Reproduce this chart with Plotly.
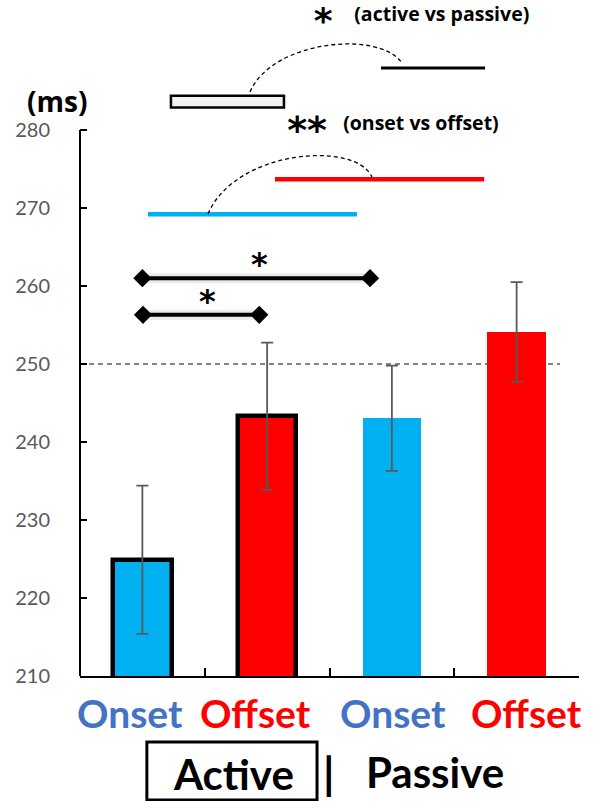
import plotly.graph_objects as go

# ---- data -------------------------------------------------------------
conditions = ["Active Onset", "Active Offset", "Passive Onset", "Passive Offset"]
labels = ["Onset", "Offset", "Onset", "Offset"]
latency_ms = [224.9, 243.3, 243.05, 254.1]
sem_ms = [9.5, 9.45, 6.75, 6.4]
y_ticks = [210, 220, 230, 240, 250, 260, 270, 280]
reference_ms = 250

# pairwise comparison brackets: (x start, x end, level, star x)
pair_brackets = [(0.0, 1.825, 261.0, 0.935), (0.005, 0.937, 256.3, 0.526)]

# main-effect markers: onset (blue) and offset (red) levels
onset_bar = (0.045, 1.72, 269.2)
offset_bar = (1.063, 2.74, 273.7)
# active (open box) vs passive (black line) key
active_box = (0.229, 1.135, 282.9, 284.4)
passive_line = (1.913, 2.747, 287.95)

BLUE = "#00B0F0"
RED = "#FF0000"
LBL_BLUE = "#4472C4"
GREY = "#595959"
FONT = "Lato"
BOLD_SMALL = "Open Sans"
STAR_FONT = "DejaVu Sans"

x_pos = list(range(len(conditions)))
bar_colors = [BLUE if l == "Onset" else RED for l in labels]
outline = [4.5 if c.startswith("Active") else 0 for c in conditions]

fig = go.Figure()
annotations = []

fig.add_trace(go.Bar(
    x=x_pos, y=latency_ms, width=0.47,
    marker=dict(color=bar_colors, line=dict(color="black", width=outline)),
    error_y=dict(type="data", array=sem_ms, color=GREY, thickness=1.8, width=6),
    hoverinfo="skip",
))

# comparison brackets with diamond ends
for x0, x1, lvl, sx in pair_brackets:
    fig.add_trace(go.Scatter(
        x=[x0, x1], y=[lvl, lvl], mode="lines",
        line=dict(color="rgba(0,0,0,0.08)", width=10), hoverinfo="skip",
    ))
    fig.add_trace(go.Scatter(
        x=[x0, x1], y=[lvl, lvl], mode="lines+markers",
        line=dict(color="black", width=4),
        marker=dict(symbol="diamond", size=14, color="black"),
        hoverinfo="skip",
    ))
    annotations.append(dict(x=sx, y=lvl, xref="x", yref="y", text="<b>*</b>", showarrow=False,
                            yanchor="middle", yshift=14,
                            font=dict(family=STAR_FONT, size=32, color="black")))

for (x0, x1, lvl), col in [(onset_bar, BLUE), (offset_bar, RED)]:
    fig.add_trace(go.Scatter(x=[x0, x1], y=[lvl, lvl], mode="lines",
                             line=dict(color=col, width=4.5), hoverinfo="skip"))

fig.add_trace(go.Scatter(x=[passive_line[0], passive_line[1]],
                         y=[passive_line[2], passive_line[2]], mode="lines",
                         line=dict(color="black", width=3), hoverinfo="skip"))

# key captions for the two comparisons
fig.add_trace(go.Scatter(
    x=[1.45, 1.32], y=[293.6, 279.5], mode="text", text=["<b>*</b>", "<b>**</b>"],
    textposition="middle center",
    textfont=dict(family=STAR_FONT, size=[36, 38], color="black"), cliponaxis=False,
    hoverinfo="skip",
))
fig.add_trace(go.Scatter(
    x=[2.40, 2.233], y=[294.6, 280.6],
    mode="text", text=["<b>(active vs passive)</b>", "<b>(onset vs offset)</b>"],
    textposition="middle center",
    textfont=dict(family=BOLD_SMALL, size=19.5, color="black"), cliponaxis=False,
    hoverinfo="skip",
))

shapes = [
    # y axis line, stopping at the top tick
    dict(type="line", xref="paper", yref="y", x0=0, x1=0, y0=y_ticks[0], y1=y_ticks[-1],
         line=dict(color="black", width=2)),
    # reference level
    dict(type="line", xref="x", yref="y", x0=-0.5, x1=3.348, y0=reference_ms, y1=reference_ms,
         line=dict(color=GREY, width=1.5, dash="5px,4px"), layer="below"),
    # active key box
    dict(type="rect", xref="x", yref="y", x0=active_box[0], x1=active_box[1],
         y0=active_box[2], y1=active_box[3], fillcolor="#F2F2F2",
         line=dict(color="black", width=2.5)),
    # dashed arcs linking the key marks
    dict(type="path", xref="x", yref="y",
         path="M 0.526,269.23 C 0.7425,277.44 1.704,278.72 1.841,273.97",
         line=dict(color="black", width=1.3, dash="4px,3px")),
    dict(type="path", xref="x", yref="y",
         path="M 0.8627,284.87 C 1.039,291.54 1.905,292.82 2.081,288.59",
         line=dict(color="black", width=1.3, dash="4px,3px")),
    # box around "Active"
    dict(type="rect", xref="paper", yref="paper", x0=0.134, x1=0.475, y0=-0.187, y1=-0.0995,
         line=dict(color="black", width=3), fillcolor="rgba(0,0,0,0)"),
]


def top_px(py):
    """paper y for a pixel row above the x axis (plot bottom = 676 px, height 663 px)."""
    return (676 - py) / 663


annotations += [
    dict(x=0, y=top_px(101), xref="paper", yref="paper", xshift=-23, text="<b>(ms)</b>",
         showarrow=False, xanchor="center", yanchor="middle",
         font=dict(family=BOLD_SMALL, size=28, color="black")),
    dict(x=0.307, y=0, xref="paper", yref="paper", yshift=-98, text="<b>Active</b>",
         showarrow=False, xanchor="center", yanchor="middle",
         font=dict(family=FONT, size=42, color="black")),
    dict(x=0.497, y=0, xref="paper", yref="paper", yshift=-97, text="<b>|</b>",
         showarrow=False, xanchor="center", yanchor="middle",
         font=dict(family=FONT, size=44, color="black")),
    dict(x=0.711, y=0, xref="paper", yref="paper", yshift=-96, text="<b>Passive</b>",
         showarrow=False, xanchor="center", yanchor="middle",
         font=dict(family=FONT, size=42, color="black")),
]

label_nudge_px = [-12, -12, 1, 10]
for xi, lab, nudge in zip(x_pos, labels, label_nudge_px):
    annotations.append(dict(
        x=xi, y=0, xref="x", yref="paper", xshift=nudge, yshift=-37,
        xanchor="center", yanchor="middle",
        text=f"<b>{lab}</b>", showarrow=False,
        font=dict(family=FONT, size=39, color=LBL_BLUE if lab == "Onset" else RED),
    ))

fig.update_layout(
    width=600, height=801,
    margin=dict(l=80, r=21, t=13, b=125, autoexpand=False),
    paper_bgcolor="white", plot_bgcolor="white",
    showlegend=False, bargap=0,
    shapes=shapes, annotations=annotations,
    xaxis=dict(range=[-0.5, 3.5], showline=True, linecolor="black", linewidth=2,
               tickvals=[0.5, 1.5, 2.5, 3.5], ticks="inside", ticklen=8, tickwidth=2,
               tickcolor="black", showticklabels=False, showgrid=False, zeroline=False,
               automargin=False),
    yaxis=dict(range=[210, 295], tickvals=y_ticks, ticks="inside", ticklen=7, tickwidth=2,
               tickcolor="black", showline=False, showgrid=False, zeroline=False,
               tickfont=dict(family=FONT, size=20, color=GREY), ticklabelstandoff=29,
               automargin=False),
)

fig.write_html("out.html", config={"displayModeBar": False})
